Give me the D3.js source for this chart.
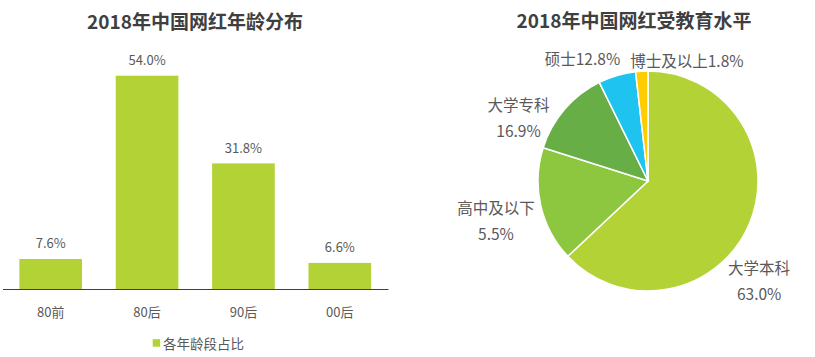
<!DOCTYPE html>
<html>
<head>
<meta charset="utf-8">
<script src="https://cdn.jsdelivr.net/npm/d3@7"></script>
<style>
  html, body { margin: 0; padding: 0; background: #fff; }
  svg { display: block; font-family: "Noto Sans CJK SC", "Noto Sans", sans-serif; }
</style>
</head>
<body>
<svg id="chart" width="815" height="357"></svg>
<script>
// ---------- data ----------
const barTitle = "2018年中国网红年龄分布";
const ageCategories = ["80前", "80后", "90后", "00后"];
const ageValues = [7.6, 54.0, 31.8, 6.6];
const barSeriesName = "各年龄段占比";

const pieTitle = "2018年中国网红受教育水平";
const eduCategories = ["大学本科", "高中及以下", "大学专科", "硕士", "博士及以上"];
const eduValues = [63.0, 5.5, 16.9, 12.8, 1.8];

// ---------- styles / layout ----------
const barColor = "#b2d235";
const pieColors = ["#b2d235", "#8dc63f", "#68ae47", "#1fc3f0", "#ffcc00"];
const textColor = "#595959";
const titleColor = "#3f3f3f";

const svg = d3.select("#chart");

// ----- Left: bar chart -----
const axisY = 289;
const x = d3.scaleBand().domain(ageCategories).range([2.5, 388])
  .paddingInner(0.35).paddingOuter(0.175);
const y = d3.scaleLinear().domain([0, 60]).range([axisY, axisY - 237]);

svg.append("text")
  .attr("x", 195).attr("y", 20.5)
  .attr("text-anchor", "middle").attr("dominant-baseline", "central")
  .attr("font-size", 19).attr("font-weight", "bold").attr("fill", titleColor)
  .text(barTitle);

const bars = svg.append("g");
bars.selectAll("rect").data(ageValues).join("rect")
  .attr("x", (d, i) => x(ageCategories[i]))
  .attr("y", d => y(d))
  .attr("width", x.bandwidth())
  .attr("height", d => y(0) - y(d))
  .attr("fill", barColor);

bars.selectAll("text").data(ageValues).join("text")
  .attr("x", (d, i) => x(ageCategories[i]) + x.bandwidth() / 2)
  .attr("y", d => y(d) - 16)
  .attr("text-anchor", "middle").attr("dominant-baseline", "central")
  .attr("font-size", 13).attr("fill", textColor)
  .text(d => d.toFixed(1) + "%");

const xAxis = svg.append("g")
  .attr("transform", `translate(0,${axisY})`)
  .call(d3.axisBottom(x).tickSize(0).tickSizeOuter(0));
xAxis.select(".domain").attr("stroke", "#404040").attr("stroke-width", 1);
xAxis.selectAll("text")
  .attr("y", 22.7).attr("dy", null)
  .attr("dominant-baseline", "central")
  .attr("font-size", 13).attr("fill", textColor)
  .attr("font-family", "Noto Sans CJK SC, sans-serif");

const legend = svg.append("g");
legend.append("rect")
  .attr("x", 152.7).attr("y", 339.2).attr("width", 7.5).attr("height", 7.5)
  .attr("fill", barColor);
legend.append("text")
  .attr("x", 163).attr("y", 343)
  .attr("dominant-baseline", "central")
  .attr("font-size", 13.5).attr("fill", textColor)
  .text(barSeriesName);

// ----- Right: pie chart -----
const cx = 648, cy = 181, radius = 110, labelRadius = 120;

svg.append("text")
  .attr("x", 634).attr("y", 19.5)
  .attr("text-anchor", "middle").attr("dominant-baseline", "central")
  .attr("font-size", 19).attr("font-weight", "bold").attr("fill", titleColor)
  .text(pieTitle);

// default d3.pie sort (descending by value); slots in angular order get the
// colour and label of the category at the same position
const arcsByAngle = d3.pie()(eduValues).slice().sort((a, b) => a.startAngle - b.startAngle);
const arcGen = d3.arc().innerRadius(0).outerRadius(radius);

const pieG = svg.append("g").attr("transform", `translate(${cx},${cy})`);
pieG.selectAll("path").data(arcsByAngle).join("path")
  .attr("d", arcGen)
  .attr("fill", (d, k) => pieColors[k])
  .attr("stroke", "#fff").attr("stroke-width", 1.5);

// label layout: anchor, stacked (two lines), offset from arc mid point
const pieLabelLayout = [
  { anchor: "middle", stacked: true,  dx: 1,   dy: 51 },
  { anchor: "middle", stacked: true,  dx: -35, dy: 12 },
  { anchor: "middle", stacked: true,  dx: -38.5, dy: 14 },
  { anchor: "end",    stacked: false, dx: 6,   dy: -7.6 },
  { anchor: "start",  stacked: false, dx: -11, dy: -1 }
];
const lineGap = 26;

arcsByAngle.forEach((a, k) => {
  const mid = (a.startAngle + a.endAngle) / 2;
  const px = Math.sin(mid) * labelRadius;
  const py = -Math.cos(mid) * labelRadius;
  const L = pieLabelLayout[k];
  const lx = px + L.dx, ly = py + L.dy;
  const name = eduCategories[k];
  const val = eduValues[k].toFixed(1) + "%";
  const t = pieG.append("text")
    .attr("text-anchor", L.anchor)
    .attr("dominant-baseline", "central")
    .attr("font-size", 15.5).attr("fill", textColor);
  if (L.stacked) {
    t.append("tspan").attr("x", lx).attr("y", ly - lineGap / 2).text(name);
    t.append("tspan").attr("x", lx).attr("y", ly + lineGap / 2).text(val);
  } else {
    t.attr("x", lx).attr("y", ly).text(name + val);
  }
});
</script>
</body>
</html>
